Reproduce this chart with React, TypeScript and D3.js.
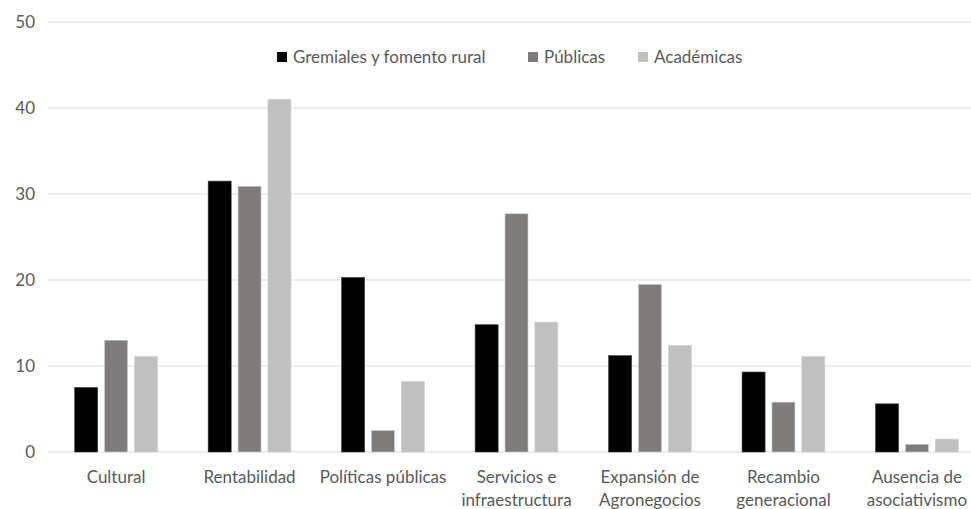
import React from "react";
import * as d3 from "d3";

const categories: string[][] = [
  ["Cultural"],
  ["Rentabilidad"],
  ["Políticas públicas"],
  ["Servicios e", "infraestructura"],
  ["Expansión de", "Agronegocios"],
  ["Recambio", "generacional"],
  ["Ausencia de", "asociativismo"],
];
const seriesNames = ["Gremiales y fomento rural", "Públicas", "Académicas"];
const gremiales = [7.5, 31.5, 20.3, 14.8, 11.2, 9.3, 5.6];
const publicas = [13.0, 30.9, 2.5, 27.7, 19.5, 5.8, 0.9];
const academicas = [11.1, 41.0, 8.2, 15.1, 12.4, 11.1, 1.5];
const yTicks = [0, 10, 20, 30, 40, 50];
const colors = ["#000000", "#7f7b7b", "#c0c0c0"];

const W = 971;
const H = 509;
const FONT = "Lato, 'Open Sans', sans-serif";
const FS = 17;

export default function App() {
  const series = [gremiales, publicas, academicas];
  const x = d3
    .scaleBand<number>()
    .domain(categories.map((_, i) => i))
    .range([48, 985])
    .paddingInner(0.38)
    .paddingOuter(0.2);
  const inner = d3
    .scaleBand<number>()
    .domain([0, 1, 2])
    .range([0, x.bandwidth()])
    .paddingInner(0.23);
  const y = d3.scaleLinear().domain([0, 50]).range([452, 22]);

  const legendX = [277, 528, 638];

  return (
    <svg
      width={W}
      height={H}
      style={{ position: "absolute", left: 0, top: 0, background: "#fff" }}
      fontFamily={FONT}
    >
      {yTicks.map((t) => (
        <g key={t}>
          <line x1={48} x2={W} y1={y(t)} y2={y(t)} stroke="#d9d9d9" strokeWidth={1} />
          <text
            x={35}
            y={y(t)}
            dy="0.35em"
            textAnchor="end"
            fontSize={FS}
            fill="#595959"
          >
            {t}
          </text>
        </g>
      ))}
      {categories.map((c, i) => (
        <g key={i} transform={`translate(${x(i)},0)`}>
          {series.map((s, j) => (
            <rect
              key={j}
              x={inner(j)}
              y={y(s[i])}
              width={inner.bandwidth()}
              height={y(0) - y(s[i])}
              fill={colors[j]}
              stroke={j === 0 ? "#3a3a3a" : "#d0d0d0"}
              strokeWidth={0.6}
            />
          ))}
          {c.map((line, k) => (
            <text
              key={k}
              x={x.bandwidth() / 2}
              y={477 + k * 23}
              dy="0.35em"
              textAnchor="middle"
              fontSize={FS}
              fill="#595959"
            >
              {line}
            </text>
          ))}
        </g>
      ))}
      {seriesNames.map((n, j) => (
        <g key={n}>
          <rect x={legendX[j]} y={52} width={10} height={10} fill={colors[j]} />
          <text x={legendX[j] + 16} y={57.5} dy="0.35em" fontSize={FS} fill="#595959">
            {n}
          </text>
        </g>
      ))}
    </svg>
  );
}
